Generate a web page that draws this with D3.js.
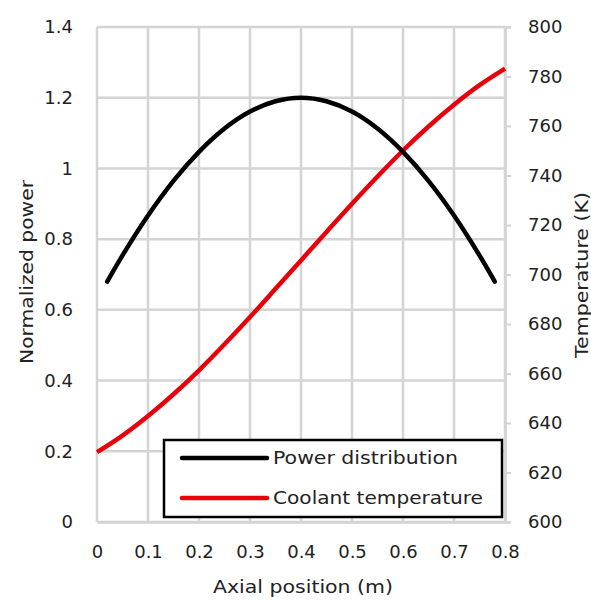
<!DOCTYPE html>
<html>
<head>
<meta charset="utf-8">
<script src="https://cdn.jsdelivr.net/npm/d3@7"></script>
<style>
  html, body { margin: 0; padding: 0; background: #fff; }
  text { font-family: "DejaVu Sans", "Liberation Sans", sans-serif; fill: #222; }
</style>
</head>
<body>
<svg id="chart" width="591" height="601"></svg>
<script>
// ---- data ----
const powerX = [0.02, 0.05, 0.10, 0.15, 0.20, 0.25, 0.30, 0.35, 0.40, 0.45, 0.50, 0.55, 0.60, 0.65, 0.70, 0.75, 0.78];
const powerY = [0.68, 0.754, 0.867, 0.965, 1.047, 1.113, 1.161, 1.190, 1.20, 1.190, 1.161, 1.113, 1.047, 0.965, 0.867, 0.754, 0.68];
const tempX = [0.00, 0.05, 0.10, 0.15, 0.20, 0.25, 0.30, 0.35, 0.40, 0.45, 0.50, 0.55, 0.60, 0.65, 0.70, 0.75, 0.80];
const tempY = [628.2, 634.9, 642.8, 651.6, 661.3, 671.8, 682.8, 694.2, 705.7, 717.2, 728.6, 739.6, 750.1, 759.8, 768.6, 776.5, 783.2];
const xTicks = [0, 0.1, 0.2, 0.3, 0.4, 0.5, 0.6, 0.7, 0.8];
const yLeftTicks = [0, 0.2, 0.4, 0.6, 0.8, 1, 1.2, 1.4];
const yRightTicks = [600, 620, 640, 660, 680, 700, 720, 740, 760, 780, 800];
const seriesNames = ["Power distribution", "Coolant temperature"];
const seriesColors = ["#000000", "#e8000b"];

// ---- layout ----
const L = 97, R = 505, T = 27, B = 522;
const svg = d3.select("#chart");
const x = d3.scaleLinear().domain([0, 0.8]).range([L, R]);
const yL = d3.scaleLinear().domain([0, 1.4]).range([B, T]);
const yR = d3.scaleLinear().domain([600, 800]).range([B, T]);
const grid = "#d4d4d4";

// gridlines
svg.append("g").selectAll("line").data(yLeftTicks).join("line")
  .attr("x1", L).attr("x2", R).attr("y1", d => yL(d)).attr("y2", d => yL(d))
  .attr("stroke", grid).attr("stroke-width", 2.5);
svg.append("g").selectAll("line").data(xTicks).join("line")
  .attr("x1", d => x(d)).attr("x2", d => x(d)).attr("y1", T).attr("y2", B)
  .attr("stroke", grid).attr("stroke-width", 2.5);

// bottom axis (labels only)
const xAxis = svg.append("g").attr("transform", `translate(0,${B})`)
  .call(d3.axisBottom(x).tickValues(xTicks).tickSize(0).tickPadding(23).tickFormat(d3.format("")));
xAxis.select(".domain").attr("stroke", grid).attr("stroke-width", 2.5);
xAxis.selectAll("text").style("font-size", "18px").attr("fill", "#222");

// left axis
const yAxisL = svg.append("g").attr("transform", `translate(${L},0)`)
  .call(d3.axisLeft(yL).tickValues(yLeftTicks).tickSize(0).tickPadding(24).tickFormat(d3.format("")));
yAxisL.select(".domain").remove();
yAxisL.selectAll("text").style("font-size", "18px").attr("fill", "#222");

// right axis
const yAxisR = svg.append("g").attr("transform", `translate(${R},0)`)
  .call(d3.axisRight(yR).tickValues(yRightTicks).tickSize(6).tickPadding(17));
yAxisR.select(".domain").attr("stroke", grid).attr("stroke-width", 2.5);
yAxisR.selectAll("line").attr("stroke", grid).attr("stroke-width", 2);
yAxisR.selectAll("text").style("font-size", "18px").attr("fill", "#222");

// lines
const powerLine = d3.line().x(d => x(d[0])).y(d => yL(d[1])).curve(d3.curveMonotoneX);
const tempLine = d3.line().x(d => x(d[0])).y(d => yR(d[1])).curve(d3.curveMonotoneX);
svg.append("path").datum(tempX.map((v, i) => [v, tempY[i]]))
  .attr("d", tempLine).attr("fill", "none").attr("stroke", seriesColors[1]).attr("stroke-width", 4.5);
svg.append("path").datum(powerX.map((v, i) => [v, powerY[i]]))
  .attr("d", powerLine).attr("fill", "none").attr("stroke", seriesColors[0]).attr("stroke-width", 4.5)
  .attr("stroke-linecap", "round");

// axis titles
svg.append("text").attr("x", 303).attr("y", 593).attr("text-anchor", "middle")
  .attr("textLength", 180).attr("lengthAdjust", "spacingAndGlyphs")
  .style("font-size", "18px").text("Axial position (m)");
svg.append("text").attr("transform", "translate(33,272) rotate(-90)").attr("text-anchor", "middle")
  .attr("textLength", 184).attr("lengthAdjust", "spacingAndGlyphs")
  .style("font-size", "17px").text("Normalized power");
svg.append("text").attr("transform", "translate(588,275) rotate(-90)").attr("text-anchor", "middle")
  .attr("textLength", 166).attr("lengthAdjust", "spacingAndGlyphs")
  .style("font-size", "17px").text("Temperature (K)");

// legend
const lg = svg.append("g");
lg.append("rect").attr("x", 164).attr("y", 440).attr("width", 338).attr("height", 77)
  .attr("fill", "#fff").attr("stroke", "#000").attr("stroke-width", 2.5);
const legendLen = [185, 210];
seriesNames.forEach((name, i) => {
  const yy = 458 + i * 40;
  lg.append("line").attr("x1", 182).attr("x2", 267).attr("y1", yy).attr("y2", yy)
    .attr("stroke", seriesColors[i]).attr("stroke-width", 4.5).attr("stroke-linecap", "round");
  lg.append("text").attr("x", 273).attr("y", yy).attr("dy", "0.35em")
    .attr("textLength", legendLen[i]).attr("lengthAdjust", "spacingAndGlyphs")
    .style("font-size", "18px").text(name);
});
</script>
</body>
</html>
